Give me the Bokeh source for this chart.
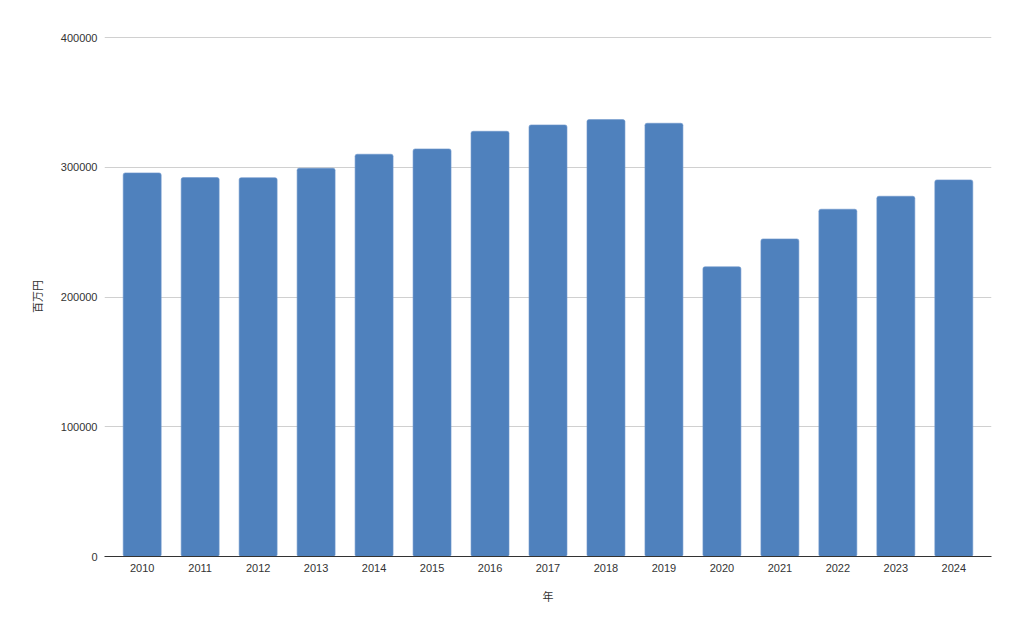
from bokeh.plotting import figure
from bokeh.models import FactorRange, Range1d, FixedTicker, BasicTickFormatter, ColumnDataSource
from bokeh.embed import file_html
from bokeh.resources import INLINE

years = ["2010", "2011", "2012", "2013", "2014", "2015", "2016", "2017",
         "2018", "2019", "2020", "2021", "2022", "2023", "2024"]
values = [295800, 292200, 292100, 299400, 310200, 314300, 327900, 332800,
          336900, 334100, 223400, 244900, 267800, 277800, 290400]
y_ticks = [0, 100000, 200000, 300000, 400000]
x_label = "年"
y_label = "百万円"

src = ColumnDataSource(dict(x=years, top=values))

p = figure(width=1008, height=618, output_backend="svg", toolbar_location=None,
           x_range=FactorRange(*years, range_padding=0.02, range_padding_units="percent"),
           y_range=Range1d(0, 401000),
           min_border_left=104, min_border_right=17, min_border_top=36, min_border_bottom=62)
p.outline_line_color = None
p.background_fill_color = "white"

p.vbar(x="x", top="top", width=0.655, source=src, fill_color="#4f81bd",
       line_color="#6f97cc", line_width=0.6, border_radius=2)

font = "Liberation Sans, Noto Sans CJK JP"
p.yaxis.ticker = FixedTicker(ticks=y_ticks)
p.yaxis.formatter = BasicTickFormatter(use_scientific=False)
p.yaxis.axis_line_color = None
p.yaxis.major_tick_line_color = None
p.yaxis.minor_tick_line_color = None
p.yaxis.major_tick_out = 0
p.yaxis.minor_tick_out = 0
p.yaxis.major_label_standoff = 7
p.yaxis.axis_label = y_label
p.yaxis.axis_label_standoff = 14

p.xaxis.axis_line_color = "#333333"
p.xaxis.axis_line_width = 1
p.xaxis.major_tick_line_color = None
p.xaxis.minor_tick_line_color = None
p.xaxis.major_tick_out = 0
p.xaxis.minor_tick_out = 0
p.xaxis.major_label_standoff = 7
p.xaxis.axis_label = x_label
p.xaxis.axis_label_standoff = 16

for ax in (p.xaxis, p.yaxis):
    ax.major_label_text_font = font
    ax.major_label_text_font_size = "11px"
    ax.major_label_text_color = "#333333"
    ax.axis_label_text_font = font
    ax.axis_label_text_font_size = "11px"
    ax.axis_label_text_font_style = "normal"
    ax.axis_label_text_color = "#333333"

p.xgrid.grid_line_color = None
p.ygrid.grid_line_color = "#d0d0d0"
p.ygrid.grid_line_width = 1

open("out.html", "w").write(file_html(p, INLINE))
